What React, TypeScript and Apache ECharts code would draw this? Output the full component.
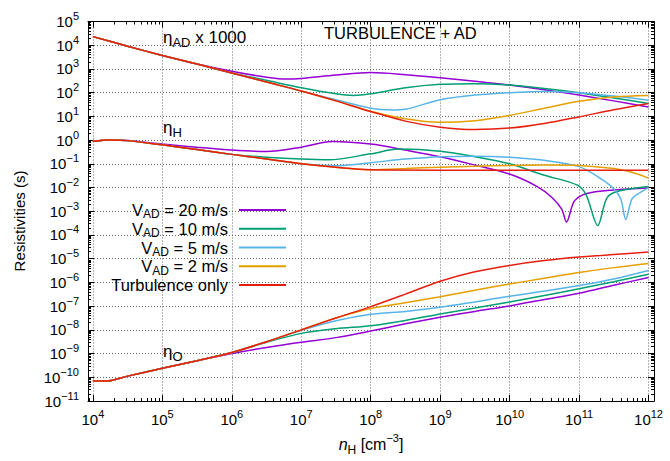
import React, { useEffect, useRef } from 'react';
import * as echarts from 'echarts';

const FONT = "'Liberation Sans', Arial, Helvetica, sans-serif";

// axis ranges and tick values
const xMin = 8.5e3;
const xMax = 1.2e12;
const yMin = 1e-11;
const yMax = 1e5;
const xTickValues = [1e4, 1e5, 1e6, 1e7, 1e8, 1e9, 1e10, 1e11, 1e12];
const yTickValues = [1e-11, 1e-10, 1e-9, 1e-8, 1e-7, 1e-6, 1e-5, 1e-4, 1e-3, 1e-2, 1e-1, 1, 10, 1e2, 1e3, 1e4, 1e5];

const seriesNames = ['20 m/s', '10 m/s', '5 m/s', '2 m/s', 'Turbulence only'];
const seriesColors = ['#9400d3', '#009e73', '#56b4e9', '#e69f00', '#e51e10'];

// eta_AD x 1000  [n_H, value]
const adV20 = [[1e4, 2.3e4], [3.16e4, 9.1e3], [1e5, 3.7e3], [3.16e5, 1.6e3], [1e6, 794], [3.16e6, 447], [6.3e6, 372], [1e7, 398], [3.16e7, 550], [1e8, 700], [3.16e8, 575], [1e9, 427], [3.16e9, 302], [1e10, 209], [3.16e10, 132], [1e11, 79], [3.16e11, 45], [1e12, 25]];
const adV10 = [[1e4, 2.3e4], [3.16e4, 9.1e3], [1e5, 3.7e3], [3.16e5, 1.6e3], [1e6, 680], [3.16e6, 330], [1e7, 160], [3.16e7, 89], [5.6e7, 76], [1e8, 89], [3.16e8, 160], [1e9, 224], [3.16e9, 240], [1e10, 209], [3.16e10, 151], [1e11, 100], [3.16e11, 60], [1e12, 35]];
const adV5 = [[1e4, 2.3e4], [3.16e4, 9.1e3], [1e5, 3.7e3], [3.16e5, 1.6e3], [1e6, 680], [3.16e6, 280], [1e7, 117], [3.16e7, 50], [1e8, 22], [2e8, 18.6], [3.16e8, 20], [1e9, 50], [3.16e9, 79], [1e10, 100], [3.16e10, 112], [1e11, 100], [3.16e11, 72], [1e12, 48]];
const adV2 = [[1e4, 2.3e4], [3.16e4, 9.1e3], [1e5, 3.7e3], [3.16e5, 1.6e3], [1e6, 680], [3.16e6, 280], [1e7, 117], [3.16e7, 45], [1e8, 16.6], [3.16e8, 7.9], [1e9, 5.6], [3.16e9, 6.6], [1e10, 11], [3.16e10, 22], [1e11, 43], [3.16e11, 66], [1e12, 76]];
const adTurb = [[1e4, 2.3e4], [3.16e4, 9.1e3], [1e5, 3.7e3], [3.16e5, 1.6e3], [1e6, 680], [3.16e6, 280], [1e7, 117], [3.16e7, 45], [1e8, 16], [3.16e8, 6.3], [1e9, 3.5], [3.16e9, 2.8], [1e10, 3.2], [3.16e10, 5], [1e11, 9.5], [3.16e11, 19], [1e12, 35]];

// eta_H
const hV20 = [[1e4, 0.89], [1.78e4, 1.0], [3.16e4, 0.95], [1e5, 0.68], [3.16e5, 0.5], [1e6, 0.38], [3.16e6, 0.33], [1e7, 0.5], [2.8e7, 0.87], [1e8, 0.68], [3.16e8, 0.38], [1e9, 0.2], [3.16e9, 0.089], [1e10, 0.037], [2.5e10, 0.011], [4e10, 4e-3], [5.6e10, 1.26e-3], [6.6e10, 3.5e-4], [8.5e10, 2.6e-3], [1.26e11, 5.5e-3], [3.16e11, 7.9e-3], [1e12, 9.5e-3]];
const hV10 = [[1e4, 0.89], [1.78e4, 1.0], [3.16e4, 0.95], [1e5, 0.63], [3.16e5, 0.4], [1e6, 0.25], [3.16e6, 0.19], [1e7, 0.158], [2.5e7, 0.148], [1e8, 0.263], [2.5e8, 0.417], [1e9, 0.34], [3.16e9, 0.2], [1e10, 0.1], [3.16e10, 0.033], [9.3e10, 0.0129], [1.26e11, 5e-3], [1.86e11, 2.5e-4], [2.5e11, 3.5e-3], [3.5e11, 6.8e-3], [1e12, 0.011]];
const hV5 = [[1e4, 0.89], [1.78e4, 1.0], [3.16e4, 0.95], [1e5, 0.63], [3.16e5, 0.4], [1e6, 0.25], [3.16e6, 0.16], [1e7, 0.1], [3.16e7, 0.083], [1e8, 0.112], [3.16e8, 0.158], [1e9, 0.2], [3.16e9, 0.21], [1e10, 0.19], [3.16e10, 0.141], [1e11, 0.076], [2e11, 0.025], [3.16e11, 8.9e-3], [4e11, 3.2e-3], [4.7e11, 4.5e-4], [5.75e11, 3.2e-3], [7.2e11, 5.6e-3], [1e12, 0.01]];
const hV2 = [[1e4, 0.89], [1.78e4, 1.0], [3.16e4, 0.95], [1e5, 0.63], [3.16e5, 0.4], [1e6, 0.25], [3.16e6, 0.16], [1e7, 0.1], [3.16e7, 0.071], [1e8, 0.056], [3.16e8, 0.063], [1e9, 0.072], [3.16e9, 0.079], [1e10, 0.085], [3.16e10, 0.089], [1e11, 0.085], [3.16e11, 0.063], [5.6e11, 0.045], [1e12, 0.025]];
const hTurb = [[1e4, 0.89], [1.78e4, 1.0], [3.16e4, 0.95], [1e5, 0.63], [3.16e5, 0.4], [1e6, 0.25], [3.16e6, 0.16], [1e7, 0.1], [3.16e7, 0.071], [1e8, 0.056], [1e9, 0.054], [1e10, 0.054], [1e11, 0.054], [1e12, 0.054]];

// eta_O
const oV20 = [[1e4, 6.9e-11], [1.58e4, 6.9e-11], [3.16e4, 1.12e-10], [1e5, 2.4e-10], [3.16e5, 5e-10], [1e6, 1e-9], [3.16e6, 1.8e-9], [1e7, 3e-9], [3.16e7, 4.7e-9], [1e8, 8.9e-9], [3.16e8, 1.8e-8], [1e9, 3.4e-8], [3.16e9, 6e-8], [1e10, 1.02e-7], [3.16e10, 1.9e-7], [1e11, 3.5e-7], [3.16e11, 7.6e-7], [1e12, 1.6e-6]];
const oV10 = [[1e4, 6.9e-11], [1.58e4, 6.9e-11], [3.16e4, 1.12e-10], [1e5, 2.4e-10], [3.16e5, 5e-10], [1e6, 1.1e-9], [3.16e6, 3e-9], [1e7, 7.1e-9], [3.16e7, 1.12e-8], [1e8, 1.5e-8], [3.16e8, 2.5e-8], [1e9, 4.7e-8], [3.16e9, 8.3e-8], [1e10, 1.5e-7], [3.16e10, 2.8e-7], [1e11, 5.4e-7], [3.16e11, 1.07e-6], [1e12, 2.2e-6]];
const oV5 = [[1e4, 6.9e-11], [1.58e4, 6.9e-11], [3.16e4, 1.12e-10], [1e5, 2.4e-10], [3.16e5, 5e-10], [1e6, 1.1e-9], [3.16e6, 3.16e-9], [1e7, 9.5e-9], [3.16e7, 2.4e-8], [1e8, 4.5e-8], [3.16e8, 6e-8], [1e9, 8.9e-8], [3.16e9, 1.5e-7], [1e10, 2.6e-7], [3.16e10, 4.3e-7], [1e11, 7.4e-7], [3.16e11, 1.4e-6], [1e12, 3.2e-6]];
const oV2 = [[1e4, 6.9e-11], [1.58e4, 6.9e-11], [3.16e4, 1.12e-10], [1e5, 2.4e-10], [3.16e5, 5e-10], [1e6, 1.1e-9], [3.16e6, 3.16e-9], [1e7, 1e-8], [3.16e7, 3.16e-8], [1e8, 7.9e-8], [3.16e8, 1.4e-7], [1e9, 2.5e-7], [3.16e9, 4.7e-7], [1e10, 8.5e-7], [3.16e10, 1.5e-6], [1e11, 2.6e-6], [3.16e11, 4.2e-6], [1e12, 6.3e-6]];
const oTurb = [[1e4, 6.9e-11], [1.58e4, 6.9e-11], [3.16e4, 1.12e-10], [1e5, 2.4e-10], [3.16e5, 5e-10], [1e6, 1.1e-9], [3.16e6, 3.16e-9], [1e7, 1e-8], [3.16e7, 3.16e-8], [1e8, 9.5e-8], [3.16e8, 3.2e-7], [1e9, 1.12e-6], [3.16e9, 2.8e-6], [1e10, 5.2e-6], [3.16e10, 8.3e-6], [1e11, 1.17e-5], [3.16e11, 1.5e-5], [1e12, 1.9e-5]];

const groups = [
  [adV20, adV10, adV5, adV2, adTurb],
  [hV20, hV10, hV5, hV2, hTurb],
  [oV20, oV10, oV5, oV2, oTurb],
];

function minorTicks(lo: number, hi: number) {
  const out: number[] = [];
  for (let e = Math.floor(Math.log10(lo)); e <= Math.ceil(Math.log10(hi)); e++) {
    for (let k = 2; k <= 9; k++) {
      const v = parseFloat((k * Math.pow(10, e)).toPrecision(3));
      if (v > lo && v < hi) out.push(v);
    }
  }
  return out;
}

const powLabel = (v: number) => {
  const e = Math.round(Math.log10(v));
  return `{b|10}{p|${e < 0 ? '\u2212' + -e : e}}`;
};

const RICH: any = {
  m: { fontFamily: FONT, fontSize: 17, color: '#000', lineHeight: 24, verticalAlign: 'middle' },
  i: { fontFamily: FONT, fontSize: 16, color: '#000', lineHeight: 24, verticalAlign: 'middle', fontStyle: 'italic' },
  s: { fontFamily: FONT, fontSize: 13, color: '#000', verticalAlign: 'bottom' },
  p: { fontFamily: FONT, fontSize: 12, color: '#000', verticalAlign: 'top' },
  g: { width: 6 },
};
const NAME_RICH: any = {
  ...RICH,
  m: { ...RICH.m, fontSize: 16 },
  s: { ...RICH.s, fontSize: 12 },
  p: { ...RICH.p, fontSize: 11 },
};
const LEGEND_RICH: any = {
  ...RICH,
  m: { ...RICH.m, fontSize: 16.5, lineHeight: 20.5 },
  s: { ...RICH.s, fontSize: 12, lineHeight: 16 },
};
const LABEL_RICH: any = {
  b: { fontFamily: FONT, fontSize: 15, color: '#000', lineHeight: 22, verticalAlign: 'middle' },
  p: { fontFamily: FONT, fontSize: 11, color: '#000', verticalAlign: 'top' },
};

const GRID_LINE = { color: '#666', type: [1, 2], width: 1 };

function App() {
  const ref = useRef<HTMLDivElement>(null);
  useEffect(() => {
    if (!ref.current) return;
    const chart = echarts.init(ref.current, null, { renderer: 'svg' });
    const xMinor = minorTicks(xMin, xMax);
    const yMinor = minorTicks(yMin, yMax);
    const common = { type: 'log', logBase: 10 };
    const mkX = (position: string, major: boolean, main: boolean) => ({
      ...common,
      position,
      min: xMin,
      max: xMax,
      axisLine: { show: main, onZero: false, lineStyle: { color: '#000', width: 1 } },
      axisTick: { show: true, inside: true, length: major ? 6 : 3, customValues: major ? xTickValues : xMinor, lineStyle: { color: '#000', width: 1 } },
      axisLabel: position === 'bottom' && major ? { show: true, customValues: xTickValues, formatter: powLabel, rich: LABEL_RICH, margin: 7 } : { show: false },
      splitLine: position === 'bottom' && major ? { show: true, lineStyle: GRID_LINE } : { show: false },
      minorTick: { show: false },
      minorSplitLine: { show: false },
      ...(position === 'bottom' && major ? {
        name: '{i|n}{s|H}{m| [cm}{p|\u22123}{m|]}',
        nameLocation: 'middle',
        nameGap: 31,
        nameTextStyle: { rich: NAME_RICH },
      } : {}),
    });
    const mkY = (position: string, major: boolean, main: boolean) => ({
      ...common,
      position,
      min: yMin,
      max: yMax,
      axisLine: { show: main, onZero: false, lineStyle: { color: '#000', width: 1 } },
      axisTick: { show: true, inside: true, length: major ? 6 : 3, customValues: major ? yTickValues : yMinor, lineStyle: { color: '#000', width: 1 } },
      axisLabel: position === 'left' && major ? { show: true, customValues: yTickValues, formatter: powLabel, rich: LABEL_RICH, margin: 9 } : { show: false },
      splitLine: position === 'left' && major ? { show: true, lineStyle: GRID_LINE } : { show: false },
      minorTick: { show: false },
      minorSplitLine: { show: false },
    });

    const series: any[] = [];
    groups.forEach((grp) => {
      grp.forEach((data, si) => {
        series.push({
          type: 'line',
          name: seriesNames[si],
          data,
          xAxisIndex: 0,
          yAxisIndex: 0,
          symbol: 'none',
          showSymbol: false,
          smooth: 0.3,
          clip: true,
          lineStyle: { color: seriesColors[si], width: 1.5 },
          itemStyle: { color: seriesColors[si] },
          emphasis: { disabled: true },
          silent: true,
          z: 2 + si,
        });
      });
    });

    chart.setOption({
      animation: false,
      backgroundColor: '#fff',
      textStyle: { fontFamily: FONT },
      grid: { left: 88, right: 16, top: 21.5, bottom: 53, containLabel: false },
      xAxis: [mkX('bottom', true, true), mkX('bottom', false, false), mkX('top', true, true), mkX('top', false, false)],
      yAxis: [mkY('left', true, true), mkY('left', false, false), mkY('right', true, true), mkY('right', false, false)],
      legend: {
        data: seriesNames,
        orient: 'vertical',
        align: 'right',
        right: 379,
        top: 196.5,
        icon: 'rect',
        itemWidth: 47,
        itemHeight: 2,
        itemGap: 0,
        selectedMode: false,
        formatter: (name: string) =>
          /^\d/.test(name) ? `{m|V}{s|AD}{m| = ${name}}{g| }` : `{m|${name}}{g| }`,
        textStyle: { fontFamily: FONT, fontSize: 16.5, color: '#000', rich: LEGEND_RICH },
      },
      graphic: [
        { type: 'text', x: 19, y: 221, rotation: Math.PI / 2, silent: true, style: { text: 'Resistivities (s)', fontFamily: FONT, fontSize: 15, fill: '#000', align: 'center', verticalAlign: 'middle' } },
        { type: 'text', x: 163, y: 37, silent: true, style: { text: '{m|\u03b7}{s|AD}{m| x 1000}', rich: RICH, verticalAlign: 'middle', align: 'left' } },
        { type: 'text', x: 324, y: 33, silent: true, style: { text: 'TURBULENCE + AD', fontFamily: FONT, fontSize: 16.5, fill: '#000', verticalAlign: 'middle', align: 'left' } },
        { type: 'text', x: 163, y: 127, silent: true, style: { text: '{m|\u03b7}{s|H}', rich: RICH, verticalAlign: 'middle', align: 'left' } },
        { type: 'text', x: 163, y: 351, silent: true, style: { text: '{m|\u03b7}{s|O}', rich: RICH, verticalAlign: 'middle', align: 'left' } },
      ],
      series,
    });
    return () => chart.dispose();
  }, []);
  return <div ref={ref} style={{ position: 'fixed', left: 0, top: 0, width: 670, height: 461, background: '#fff' }} />;
}

export default App;
